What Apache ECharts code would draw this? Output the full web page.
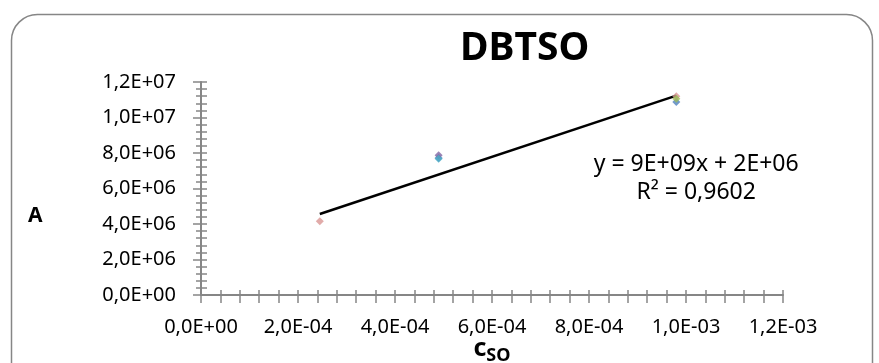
<!DOCTYPE html>
<html>
<head>
<meta charset="utf-8">
<script src="https://cdn.jsdelivr.net/npm/echarts@6/dist/echarts.min.js"></script>
<style>
  html, body { margin: 0; padding: 0; background: #fff; }
  #chart { width: 879px; height: 363px; }
</style>
</head>
<body>
<div id="chart"></div>
<script>
// measured points (x = c_SO, y = A), one array per Excel series
const seriesNames = ["S1", "S2", "S3", "S4", "S5"];
const seriesColors = ["#4F81BD", "#D99694", "#9BBB59", "#8064A2", "#4BACC6"];
const s1 = [[9.8e-4, 1.088e7], [4.9e-4, 7.72e6]];
const s2 = [[2.45e-4, 4.15e6], [9.8e-4, 1.12e7]];
const s3 = [[9.8e-4, 1.106e7]];
const s4 = [[4.9e-4, 7.88e6]];
const s5 = [[4.9e-4, 7.68e6]];
const pointSets = [s1, s2, s3, s4, s5];

// linear trend line ends, as drawn
const trendX = [2.45e-4, 9.8e-4];
const trendY = [4.56e6, 1.123e7];
const trendLabel = ["y = 9E+09x + 2E+06", "R² = 0,9602"];
// where the equation box sits (data coords)
const trendLabelAt = [1.021e-3, 6.54e6];

const xTicks = { min: 0, max: 1.2e-3, step: 2e-4 };
const yTicks = { min: 0, max: 1.2e7, step: 2e6 };

const axisGray = "#868686";
const font = "'Noto Sans', sans-serif";

// Excel style "1,2E+07"
function sci(v) {
  const [m, e] = Number(v).toExponential(1).split("e");
  const n = parseInt(e, 10);
  const exp = (n < 0 ? "-" : "+") + String(Math.abs(n)).padStart(2, "0");
  return m.replace(".", ",") + "E" + exp;
}

const chart = echarts.init(document.getElementById("chart"));

const baseX = {
  type: "value",
  position: "bottom",
  min: xTicks.min,
  max: xTicks.max,
  interval: xTicks.step,
  splitLine: { show: false }
};
const baseY = {
  type: "value",
  position: "left",
  min: yTicks.min,
  max: yTicks.max,
  interval: yTicks.step,
  splitLine: { show: false }
};

const scatterSeries = pointSets.map((pts, i) => ({
  name: seriesNames[i],
  type: "scatter",
  data: pts,
  symbol: "diamond",
  symbolSize: 8,
  itemStyle: { color: seriesColors[i] },
  z: 3
}));

const option = {
  animation: false,
  backgroundColor: "#fff",
  textStyle: { fontFamily: font },
  title: {
    text: "DBTSO",
    left: 455,
    top: 24,
    textStyle: { fontSize: 39, fontWeight: "bold", color: "#000", fontFamily: font }
  },
  // v6 would otherwise shrink the grid to fit the axis name
  grid: { left: 201, right: 96, top: 82, bottom: 68, outerBoundsMode: "none", containLabel: false },
  xAxis: [
    Object.assign({}, baseX, {
      axisLine: { lineStyle: { color: axisGray, width: 2 } },
      axisTick: { inside: true, length: 5, lineStyle: { color: axisGray, width: 1.5 } },
      minorTick: { show: true, splitNumber: 5, length: 5, lineStyle: { color: axisGray, width: 1.5 } },
      axisLabel: { formatter: sci, fontSize: 20, color: "#000", margin: 22, fontFamily: font },
      name: "{c|c}{s|SO}",
      nameLocation: "middle",
      nameGap: 38,
      nameMoveOverlap: false,
      nameTextStyle: {
        rich: {
          c: { fontSize: 25, fontWeight: "bold", color: "#000", fontFamily: font },
          s: { fontSize: 18, fontWeight: "bold", color: "#000", fontFamily: font, padding: [14, 0, 0, 0] }
        }
      }
    }),
    // second copy only for the tick halves below the line
    Object.assign({}, baseX, {
      axisLine: { show: false },
      axisTick: { inside: false, length: 8, lineStyle: { color: axisGray, width: 1.5 } },
      minorTick: { show: true, splitNumber: 5, length: 8, lineStyle: { color: axisGray, width: 1.5 } },
      axisLabel: { show: false }
    })
  ],
  yAxis: [
    Object.assign({}, baseY, {
      axisLine: { lineStyle: { color: axisGray, width: 2 } },
      axisTick: { inside: true, length: 6, lineStyle: { color: axisGray, width: 1.5 } },
      minorTick: { show: true, splitNumber: 5, length: 6, lineStyle: { color: axisGray, width: 1.5 } },
      axisLabel: { formatter: sci, fontSize: 20, color: "#000", margin: 25, fontFamily: font }
    }),
    Object.assign({}, baseY, {
      axisLine: { show: false },
      axisTick: { inside: false, length: 8, lineStyle: { color: axisGray, width: 1.5 } },
      minorTick: { show: true, splitNumber: 5, length: 5, lineStyle: { color: axisGray, width: 1.5 } },
      axisLabel: { show: false }
    })
  ],
  graphic: [
    {
      type: "rect",
      left: 9,
      top: 12,
      shape: { width: 861, height: 380, r: 26 },
      style: { fill: "none", stroke: axisGray, lineWidth: 1.5 },
      silent: true,
      z: -10
    },
    {
      type: "text",
      left: 28,
      top: 206,
      style: { text: "A", fontSize: 21, fontWeight: "bold", fill: "#000", fontFamily: font }
    }
  ],
  series: [
    {
      name: "trend",
      type: "line",
      data: trendX.map((x, i) => [x, trendY[i]]),
      showSymbol: false,
      lineStyle: { color: "#000", width: 2.5 },
      z: 2,
      markPoint: {
        symbol: "rect",
        symbolSize: 0,
        data: [{
          coord: trendLabelAt,
          label: {
            show: true,
            formatter: trendLabel.join("\n"),
            fontSize: 23,
            lineHeight: 28,
            color: "#000",
            align: "center",
            fontFamily: font
          }
        }]
      }
    }
  ].concat(scatterSeries)
};

chart.setOption(option);
</script>
</body>
</html>
